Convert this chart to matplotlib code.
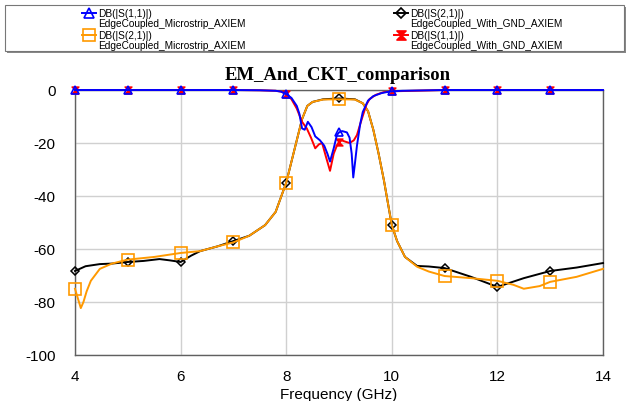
import numpy as np
import matplotlib
matplotlib.use("Agg")
import matplotlib.pyplot as plt
from matplotlib.lines import Line2D
from matplotlib.patches import Rectangle
from matplotlib.path import Path

# ---------------- data ----------------
f_s11_micro = [4, 5, 6, 7, 7.5, 7.8, 7.9, 8.0, 8.1, 8.2, 8.25, 8.3, 8.35, 8.41, 8.48, 8.55, 8.64,
               8.72, 8.78, 8.83, 8.9, 8.96, 9.0, 9.06, 9.15, 9.2, 9.24, 9.27, 9.3, 9.34, 9.4, 9.45,
               9.55, 9.65, 9.8, 9.9, 10, 10.2, 11, 12, 13, 14]
s11_micro = [0, 0, 0, 0, -0.1, -0.3, -0.6, -1.5, -3, -6, -9, -14.5, -15, -12, -14, -17.5, -19,
             -21, -24, -27, -22, -17, -16, -15.5, -16, -18, -24, -33, -28, -21, -13, -8.3,
             -4, -2.3, -1.2, -0.8, -0.5, -0.3, 0, 0, 0, 0]

f_s11_gnd = [4, 5, 6, 7, 7.5, 7.8, 7.9, 8.0, 8.1, 8.2, 8.3, 8.39, 8.47, 8.55, 8.62, 8.68, 8.75,
             8.83, 8.9, 8.96, 9.0, 9.05, 9.12, 9.2, 9.28, 9.34, 9.4, 9.45, 9.52, 9.58, 9.7, 9.85,
             10, 11, 12, 13, 14]
s11_gnd = [0, 0, 0, 0, -0.1, -0.3, -0.6, -1.5, -3.5, -7, -12, -14.5, -18, -22, -20.5, -20, -25,
           -30.5, -24, -21, -19.5, -19, -19.5, -20, -19, -17, -13, -9.8, -5.5, -3.4, -1.8, -0.8,
           -0.5, 0, 0, 0, 0]

f_s21_gnd = [4, 4.2, 4.47, 4.7, 5, 5.3, 5.6, 5.8, 6, 6.2, 6.37, 6.7, 7, 7.3, 7.6, 7.8, 8.0, 8.1,
             8.2, 8.3, 8.4, 8.5, 8.7, 9, 9.3, 9.45, 9.55, 9.65, 9.75, 9.85, 10, 10.1, 10.25,
             10.48, 10.7, 11, 11.5, 12, 12.5, 13, 13.5, 14]
s21_gnd = [-68.3, -66.5, -65.7, -65.5, -64.9, -64.5, -63.8, -64.3, -64.9, -62.5, -60.8, -59, -57,
           -55, -51, -46, -35, -27, -19, -11, -6, -4.5, -3.5, -3.2, -3.5, -5, -8, -15, -24, -34,
           -51, -57, -63, -66.4, -66.6, -67.2, -70.5, -74.3, -71, -68.3, -67, -65.3]

f_s21_micro = [4, 4.06, 4.11, 4.16, 4.22, 4.3, 4.47, 4.7, 5, 5.5, 6, 6.37, 6.7, 7, 7.3, 7.6, 7.8,
               8, 8.1, 8.2, 8.3, 8.4, 8.5, 8.7, 9, 9.3, 9.45, 9.55, 9.65, 9.75, 9.85, 10, 10.1,
               10.25, 10.48, 10.7, 11, 11.5, 12, 12.3, 12.5, 12.8, 13, 13.5, 14]
s21_micro = [-75, -79, -82.3, -80, -76, -72, -67.5, -65.5, -64, -63, -61.5, -60.8, -59, -57.5,
             -55, -51, -46, -35, -27, -19, -11, -6, -4.5, -3.6, -3.5, -3.6, -5, -8, -15, -24,
             -34, -51, -57, -63, -66.7, -68.5, -70.2, -71, -72, -73.5, -75, -74, -72.4, -70.5,
             -67.5]

x_ticks = [4, 6, 8, 10, 12, 14]
y_ticks = [0, -20, -40, -60, -80, -100]
marker_freqs = [4, 5, 6, 7, 8, 9, 10, 11, 12, 13]

title = "EM_And_CKT_comparison"
xlabel = "Frequency (GHz)"

BLUE = "#0000FF"
RED = "#FF0000"
BLACK = "#000000"
ORANGE = "#FF9900"

hourglass = Path([(-1, 1), (1, 1), (-1, -1), (1, -1), (-1, 1)],
                 [Path.MOVETO, Path.LINETO, Path.LINETO, Path.LINETO, Path.CLOSEPOLY])


def mk_idx(freqs):
    return [i for i, f in enumerate(freqs) if any(abs(f - m) < 1e-9 for m in marker_freqs)]


plt.rcParams['font.family'] = ['Liberation Sans', 'DejaVu Sans']
fig = plt.figure(figsize=(6.26, 4.02), dpi=100)
W, H = 626, 402
ax = fig.add_axes([75 / W, 1 - 356 / H, (603 - 75) / W, (356 - 91) / H])

ax.plot(f_s21_gnd, s21_gnd, color=BLACK, lw=1.4, marker='D', ms=4.5, mfc='none', mew=1.1,
        markevery=mk_idx(f_s21_gnd), clip_on=False, zorder=3)
ax.plot(f_s21_micro, s21_micro, color=ORANGE, lw=1.4, marker='s', ms=8, mfc='none', mew=1.2,
        markevery=mk_idx(f_s21_micro), clip_on=False, zorder=3)
ax.plot(f_s11_gnd, s11_gnd, color=RED, lw=1.4, marker=hourglass, ms=5, mfc=RED, mew=1.0,
        markevery=mk_idx(f_s11_gnd), clip_on=False, zorder=4)
ax.plot(f_s11_micro, s11_micro, color=BLUE, lw=1.4, marker='^', ms=5.5, mfc='none', mew=1.2,
        markevery=mk_idx(f_s11_micro), clip_on=False, zorder=5)

ax.set_xlim(4, 14)
ax.set_ylim(-100, 0)
ax.set_xticks(x_ticks)
ax.set_yticks(y_ticks)
ax.set_xticklabels([str(t) for t in x_ticks])
ax.set_yticklabels([str(t) for t in y_ticks])
ax.tick_params(length=0, labelsize=11)
ax.tick_params(axis='y', pad=14)
ax.tick_params(axis='x', pad=10)
ax.grid(True, color='#d0d0d0', lw=1.0)
ax.set_axisbelow(True)
for s in ax.spines.values():
    s.set_color('#606060')
    s.set_linewidth(1.0)
ax.set_xlabel(xlabel, fontsize=11, labelpad=3)

fig.text(337.5 / W, 1 - 76 / H, title, ha='center', va='center', fontsize=13.4,
         fontweight='bold', family=['Liberation Serif', 'DejaVu Serif'])

# ---------------- legend (drawn in pixel coords) ----------------
lg = fig.add_axes([0, 0, 1, 1], zorder=10)
lg.set_xlim(0, W)
lg.set_ylim(H, 0)
lg.axis('off')
lg.add_patch(Rectangle((7, 8), 619, 46, fc='#888888', ec='none'))
lg.add_patch(Rectangle((5, 6), 619, 46, fc='white', ec='#777777', lw=0.8))

entries = [
    (89, 14, BLUE, '^', 'none', 6.5, "DB(|S(1,1)|)", "EdgeCoupled_Microstrip_AXIEM"),
    (89, 36, ORANGE, 's', 'none', 8, "DB(|S(2,1)|)", "EdgeCoupled_Microstrip_AXIEM"),
    (401, 14, BLACK, 'D', 'none', 5, "DB(|S(2,1)|)", "EdgeCoupled_With_GND_AXIEM"),
    (401, 36, RED, hourglass, RED, 6.5, "DB(|S(1,1)|)", "EdgeCoupled_With_GND_AXIEM"),
]
for x, y, c, m, mfc, ms, l1, l2 in entries:
    lg.add_line(Line2D([x - 7, x + 7], [y, y], color=c, lw=1.4))
    lg.add_line(Line2D([x], [y], color=c, marker=m, ms=ms, mfc=mfc, mew=1.2))
    lg.text(x + 9, y, l1, fontsize=7.3, va='center', ha='left')
    lg.text(x + 9, y + 10, l2, fontsize=7.3, va='center', ha='left')

fig.savefig("out.png", dpi=100)
